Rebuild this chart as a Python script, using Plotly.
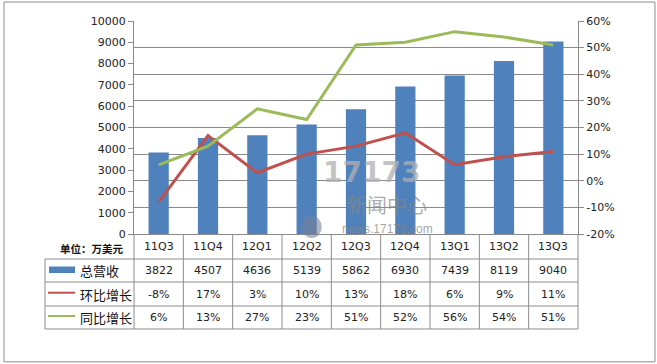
import plotly.graph_objects as go

categories = ["11Q3", "11Q4", "12Q1", "12Q2", "12Q3", "12Q4", "13Q1", "13Q2", "13Q3"]
revenue = [3822, 4507, 4636, 5139, 5862, 6930, 7439, 8119, 9040]
qoq_growth = [-8, 17, 3, 10, 13, 18, 6, 9, 11]
yoy_growth = [6, 13, 27, 23, 51, 52, 56, 54, 51]
series_names = ["总营收", "环比增长", "同比增长"]
unit_label = "单位：万美元"
left_ticks = list(range(0, 10001, 1000))
right_ticks = list(range(-20, 61, 10))

BLUE = "#4F81BD"
RED = "#C0504D"
GREEN = "#9BBB59"
GRID = "#8a8a8a"
FONT = "DejaVu Sans"
CJK = "Noto Sans CJK SC"

fig = go.Figure()
fig.add_trace(go.Bar(x=categories, y=revenue, name=series_names[0], marker=dict(color=BLUE, line=dict(width=0)),
                     yaxis="y"))
fig.add_trace(go.Scatter(x=categories, y=qoq_growth, name=series_names[1], mode="lines",
                         line=dict(color=RED, width=3), yaxis="y2"))
fig.add_trace(go.Scatter(x=categories, y=yoy_growth, name=series_names[2], mode="lines",
                         line=dict(color=GREEN, width=3), yaxis="y2"))

fig.update_layout(
    width=657, height=364,
    margin=dict(l=134, r=79, t=21, b=130),
    paper_bgcolor="white", plot_bgcolor="white",
    showlegend=False, bargap=0.59,
    font=dict(family=FONT, size=11, color="#222"),
    xaxis=dict(type="category", range=[-0.5, 8.5], showticklabels=False, showgrid=False,
               showline=True, linecolor=GRID, linewidth=1, ticks="", zeroline=False),
    yaxis=dict(range=[0, 10000], tickvals=left_ticks, ticktext=[str(v) for v in left_ticks],
               showgrid=False, showline=True,
               linecolor=GRID, linewidth=1, ticks="outside", ticklen=5, tickcolor=GRID,
               zeroline=False, tickfont=dict(family=FONT, size=11, color="#222")),
    yaxis2=dict(range=[-20, 60], tickvals=right_ticks, ticktext=[f"{v}%" for v in right_ticks],
                overlaying="y", side="right",
                showgrid=True, gridcolor=GRID, gridwidth=1, showline=True, linecolor=GRID,
                linewidth=1, ticks="outside", ticklen=5, tickcolor=GRID, zeroline=False,
                tickfont=dict(family=FONT, size=11, color="#222")),
)

# table geometry (paper coords)
row_edges = [0, -0.1174, -0.2254, -0.338, -0.446]
row_centers = [(row_edges[i] + row_edges[i + 1]) / 2 for i in range(4)]
left_col = -0.2005
LC = "#8c8c8c"

for i in range(len(categories) - 1):
    fig.add_shape(type="line", xref="x", yref="paper", x0=i + 0.5, x1=i + 0.5,
                  y0=row_edges[0], y1=row_edges[-1], line=dict(color=LC, width=1))
for xp in (0, 1):
    fig.add_shape(type="line", xref="paper", yref="paper", x0=xp, x1=xp,
                  y0=row_edges[0], y1=row_edges[-1], line=dict(color=LC, width=1))
fig.add_shape(type="line", xref="paper", yref="paper", x0=left_col, x1=left_col,
              y0=row_edges[1], y1=row_edges[-1], line=dict(color=LC, width=1))
for ye in row_edges[1:]:
    fig.add_shape(type="line", xref="paper", yref="paper", x0=left_col, x1=1,
                  y0=ye, y1=ye, line=dict(color=LC, width=1))

# legend keys
fig.add_shape(type="rect", xref="paper", yref="paper", x0=-0.1914, x1=-0.1329,
              y0=-0.1526, y1=-0.1831, fillcolor=BLUE, line=dict(width=0))
fig.add_shape(type="line", xref="paper", yref="paper", x0=-0.1937, x1=-0.1329,
              y0=-0.2756, y1=-0.2756, line=dict(color=RED, width=2))
fig.add_shape(type="line", xref="paper", yref="paper", x0=-0.1937, x1=-0.1329,
              y0=-0.385, y1=-0.385, line=dict(color=GREEN, width=2))

for name, yc in zip(series_names, row_centers[1:]):
    fig.add_annotation(xref="paper", yref="paper", x=-0.127, y=yc, text=name, showarrow=False,
                       xanchor="left", yanchor="middle", font=dict(family=CJK, size=13, color="#111"))
fig.add_annotation(xref="paper", yref="paper", x=-0.0957, y=row_centers[0] - 0.01,
                   text="<b>" + unit_label + "</b>",
                   showarrow=False, xanchor="center", yanchor="middle",
                   font=dict(family=CJK, size=10.5, color="#111"))

rows = [
    categories,
    [str(v) for v in revenue],
    [f"{v}%" for v in qoq_growth],
    [f"{v}%" for v in yoy_growth],
]
for r, yc in zip(rows, row_centers):
    for cat, txt in zip(categories, r):
        fig.add_annotation(xref="x", yref="paper", x=cat, y=yc, text=txt, showarrow=False,
                           xanchor="center", yanchor="middle", font=dict(family=FONT, size=11, color="#222"))

# watermark
fig.add_annotation(xref="paper", yref="paper", x=0.536, y=0.29, text="<b>17173</b>", showarrow=False,
                   xanchor="center", yanchor="middle",
                   font=dict(family=FONT, size=28, color="rgba(175,175,180,0.75)"))
fig.add_annotation(xref="paper", yref="paper", x=0.57, y=0.14, text="新闻中心", showarrow=False,
                   xanchor="center", yanchor="middle",
                   font=dict(family=CJK, size=20, color="rgba(135,135,135,0.7)"))
fig.add_annotation(xref="paper", yref="paper", x=0.57, y=0.022, text="news.17173.com", showarrow=False,
                   xanchor="center", yanchor="middle",
                   font=dict(family="Liberation Sans", size=12, color="rgba(135,135,135,0.75)"))
fig.add_shape(type="circle", xref="paper", yref="paper", x0=0.378, x1=0.423, y0=0.0845, y1=-0.019,
              fillcolor="rgba(120,130,150,0.6)", line=dict(width=0))

# outer border
fig.add_shape(type="rect", xref="paper", yref="paper", x0=-0.2928, x1=1.1734, y0=1.089, y1=-0.6,
              line=dict(color="#8c8c8c", width=1), fillcolor="rgba(0,0,0,0)")

fig.write_html("out.html", config={"displayModeBar": False},
               post_script="document.body.style.margin='0px';")
